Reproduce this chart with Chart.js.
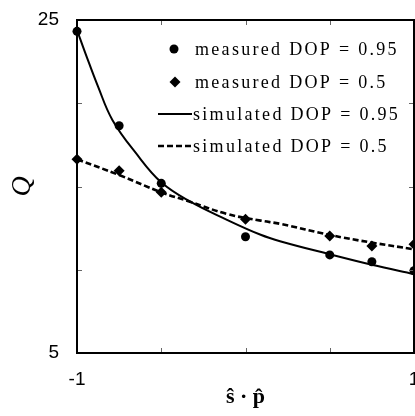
<!DOCTYPE html>
<html>
<head>
<meta charset="utf-8">
<script src="https://cdn.jsdelivr.net/npm/chart.js@4/dist/chart.umd.min.js"></script>
<style>
  html, body { margin: 0; padding: 0; background: #fff; overflow: hidden; }
  #wrap { width: 415px; height: 416px; position: relative; }
  canvas { display: block; }
</style>
</head>
<body>
<div id="wrap"><canvas id="c" width="415" height="416"></canvas></div>
<script>
// ---- data ----
const measX = [-1, -0.75, -0.5, 0, 0.5, 0.75, 1];
const measured095 = [24.32, 18.65, 15.19, 11.98, 10.89, 10.48, 9.94];
const measured05 = [16.63, 15.95, 14.65, 13.03, 12.03, 11.43, 11.53];
const sim095X = [-1, -0.95, -0.875, -0.79, -0.65, -0.5, -0.33, -0.11, 0.09, 0.21, 0.5, 0.75, 1];
const sim095Y = [24.4, 23.0, 21.0, 19.0, 17.0, 15.25, 14.1, 13.0, 12.1, 11.7, 10.93, 10.3, 9.74];
const sim05X = [-1, -0.75, -0.5, -0.33, -0.11, 0.09, 0.21, 0.5, 0.75, 1];
const sim05Y = [16.63, 15.69, 14.65, 14.09, 13.35, 12.95, 12.75, 12.09, 11.63, 11.23];
const xLabeledTicks = [-1, 1];
const yLabeledTicks = [5, 25];
const legendLabels = ['measured DOP = 0.95', 'measured DOP = 0.5', 'simulated DOP = 0.95', 'simulated DOP = 0.5'];
const xTitle = 'ŝ · p̂';
const yTitle = 'Q';

const pts = (xs, ys) => xs.map((x, i) => ({x: x, y: ys[i]}));

const frameAndTicks = {
  id: 'frameAndTicks',
  afterDatasetsDraw(chart) {
    const {ctx, chartArea: a, scales} = chart;
    const x = scales.x, y = scales.y;
    ctx.save();
    ctx.strokeStyle = '#666';
    ctx.lineWidth = 1;
    x.ticks.forEach(t => {
      const px = Math.round(x.getPixelForValue(t.value)) + 0.5;
      ctx.beginPath(); ctx.moveTo(px, a.bottom); ctx.lineTo(px, a.bottom - 5); ctx.stroke();
      ctx.beginPath(); ctx.moveTo(px, a.top); ctx.lineTo(px, a.top + 5); ctx.stroke();
    });
    y.ticks.forEach(t => {
      const py = Math.round(y.getPixelForValue(t.value)) + 0.5;
      ctx.beginPath(); ctx.moveTo(a.left, py); ctx.lineTo(a.left + 5, py); ctx.stroke();
      ctx.beginPath(); ctx.moveTo(a.right, py); ctx.lineTo(a.right - 5, py); ctx.stroke();
    });
    ctx.strokeStyle = '#000';
    ctx.lineWidth = 2;
    ctx.strokeRect(a.left, a.top, a.right - a.left, a.bottom - a.top);
    ctx.restore();
  }
};

const customLegend = {
  id: 'customLegend',
  afterDraw(chart) {
    const ctx = chart.ctx;
    ctx.save();
    ctx.fillStyle = '#000';
    ctx.strokeStyle = '#000';
    ctx.beginPath(); ctx.arc(174, 49, 4.5, 0, Math.PI * 2); ctx.fill();
    ctx.beginPath();
    ctx.moveTo(175, 76.5); ctx.lineTo(180.5, 82); ctx.lineTo(175, 87.5); ctx.lineTo(169.5, 82); ctx.closePath(); ctx.fill();
    ctx.lineWidth = 2;
    ctx.beginPath(); ctx.moveTo(158, 114); ctx.lineTo(192, 114); ctx.stroke();
    ctx.lineWidth = 2.6;
    ctx.setLineDash([6, 3]);
    ctx.beginPath(); ctx.moveTo(158, 146); ctx.lineTo(192, 146); ctx.stroke();
    ctx.setLineDash([]);
    ctx.font = '18px "Liberation Serif", "Times New Roman", serif';
    ctx.textBaseline = 'middle';
    ctx.textAlign = 'left';
    try { ctx.letterSpacing = '2.3px'; } catch (e) {}
    ctx.fillText(legendLabels[0], 195, 50);
    ctx.fillText(legendLabels[1], 195, 83);
    ctx.fillText(legendLabels[2], 193, 115);
    ctx.fillText(legendLabels[3], 193, 147);
    ctx.restore();
  }
};

const zeroPad = s => { s.paddingLeft = 0; s.paddingRight = 0; s.paddingTop = 0; s.paddingBottom = 0; };

new Chart(document.getElementById('c'), {
  type: 'scatter',
  data: {
    datasets: [
      { label: legendLabels[2], type: 'line', data: pts(sim095X, sim095Y), borderColor: '#000', borderWidth: 2,
        pointRadius: 0, tension: 0.4, fill: false, order: 3 },
      { label: legendLabels[3], type: 'line', data: pts(sim05X, sim05Y), borderColor: '#000', borderWidth: 2.6,
        borderDash: [6, 3], pointRadius: 0, tension: 0.4, fill: false, order: 4 },
      { label: legendLabels[0], data: pts(measX, measured095), pointStyle: 'circle', pointRadius: 4.5,
        backgroundColor: '#000', borderColor: '#000', borderWidth: 0, clip: false, order: 1 },
      { label: legendLabels[1], data: pts(measX, measured05), pointStyle: 'rectRot', pointRadius: 5.5,
        backgroundColor: '#000', borderColor: '#000', borderWidth: 0, clip: false, order: 2 }
    ]
  },
  options: {
    responsive: false,
    animation: false,
    events: [],
    layout: { padding: { left: 0, top: 20, right: 1, bottom: 0 }, autoPadding: false },
    plugins: { legend: { display: false }, tooltip: { enabled: false } },
    scales: {
      x: {
        type: 'linear', min: -1, max: 1,
        grid: { display: false },
        border: { display: true, color: '#000', width: 2 },
        ticks: {
          stepSize: 0.5, padding: 7, color: '#000', maxRotation: 0, autoSkip: false,
          font: { family: '"Liberation Sans", Arial, sans-serif', size: 19 },
          callback: v => xLabeledTicks.includes(v) ? String(v) : ''
        },
        title: { display: true, text: xTitle, color: '#000', padding: { top: 0, bottom: 5 },
          font: { family: '"Liberation Serif", "Times New Roman", serif', size: 22, weight: 'bold' } },
        afterFit: s => { s.height = 63; zeroPad(s); }
      },
      y: {
        type: 'linear', min: 5, max: 25,
        grid: { display: false },
        border: { display: true, color: '#000', width: 2 },
        ticks: {
          stepSize: 5, padding: 10, color: '#000', autoSkip: false,
          font: { family: '"Liberation Sans", Arial, sans-serif', size: 19 },
          callback: v => yLabeledTicks.includes(v) ? String(v) : ''
        },
        title: { display: true, text: yTitle, color: '#000', padding: { top: 6, bottom: 0 },
          font: { family: '"Liberation Serif", "Times New Roman", serif', size: 28, style: 'italic' } },
        afterFit: s => { s.width = 77; zeroPad(s); }
      }
    }
  },
  plugins: [frameAndTicks, customLegend]
});
</script>
</body>
</html>
